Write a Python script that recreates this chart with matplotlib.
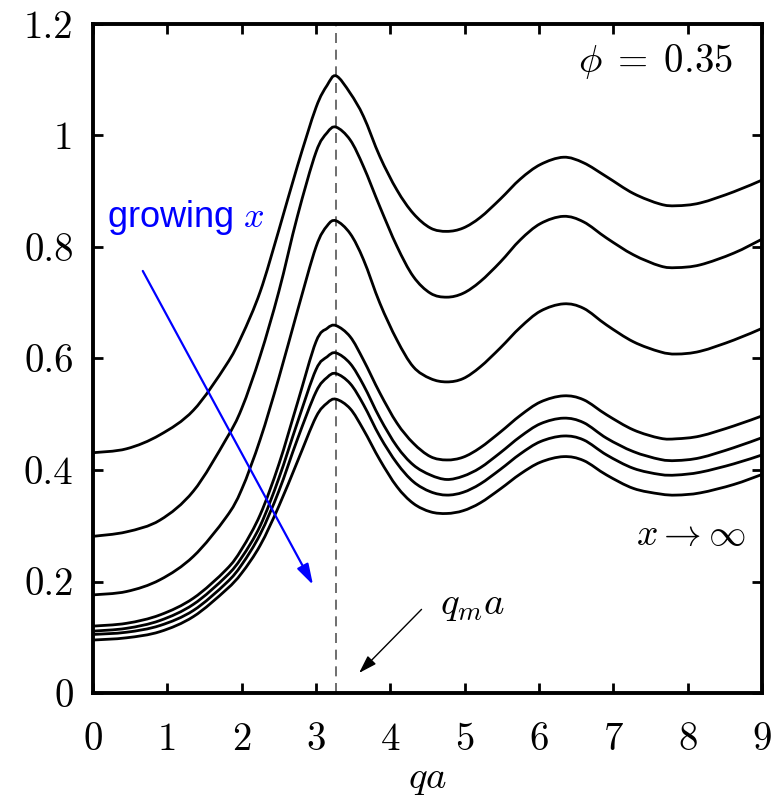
import numpy as np
import matplotlib
matplotlib.use('Agg')
import matplotlib.pyplot as plt
from matplotlib.path import Path
from matplotlib.patches import PathPatch

plt.rcParams['mathtext.fontset'] = 'cm'
plt.rcParams['font.family'] = 'serif'
plt.rcParams['font.serif'] = ['cmr10']
plt.rcParams['axes.formatter.use_mathtext'] = True

# q*a sample positions
qa = [0, 0.45, 0.9, 1.35, 1.79, 2.0, 2.25, 2.5, 2.75, 3.0, 3.15, 3.27, 3.46,
      3.64, 3.86, 4.09, 4.31, 4.54, 4.76, 4.98, 5.21, 5.48, 5.75, 6.02, 6.33,
      6.6, 6.91, 7.27, 7.63, 7.85, 8.17, 8.62, 9.0]

# S(q) curves, top (smallest x) to bottom (x -> infinity)
s1 = [0.431, 0.438, 0.463, 0.507, 0.588, 0.640, 0.720, 0.830, 0.945, 1.050, 1.090,
      1.107, 1.076, 1.034, 0.962, 0.902, 0.860, 0.834, 0.828, 0.834, 0.853, 0.886,
      0.922, 0.948, 0.961, 0.951, 0.926, 0.896, 0.877, 0.874, 0.879, 0.899, 0.920]
s2 = [0.281, 0.289, 0.310, 0.362, 0.455, 0.510, 0.605, 0.720, 0.855, 0.970, 1.005,
      1.015, 0.992, 0.944, 0.872, 0.801, 0.747, 0.717, 0.710, 0.717, 0.738, 0.773,
      0.813, 0.842, 0.855, 0.845, 0.816, 0.786, 0.766, 0.763, 0.768, 0.789, 0.814]
s3 = [0.176, 0.182, 0.203, 0.245, 0.315, 0.365, 0.455, 0.565, 0.685, 0.800, 0.838,
      0.847, 0.824, 0.777, 0.699, 0.633, 0.585, 0.564, 0.558, 0.564, 0.585, 0.619,
      0.656, 0.685, 0.698, 0.690, 0.660, 0.630, 0.612, 0.608, 0.613, 0.633, 0.654]
s4 = [0.120, 0.125, 0.140, 0.170, 0.221, 0.258, 0.320, 0.410, 0.520, 0.630, 0.654,
      0.659, 0.639, 0.597, 0.538, 0.484, 0.448, 0.424, 0.418, 0.423, 0.440, 0.468,
      0.498, 0.522, 0.533, 0.526, 0.499, 0.472, 0.457, 0.456, 0.461, 0.479, 0.497]
s5 = [0.111, 0.116, 0.130, 0.159, 0.209, 0.243, 0.300, 0.385, 0.485, 0.580, 0.603,
      0.610, 0.591, 0.552, 0.493, 0.442, 0.409, 0.391, 0.383, 0.389, 0.404, 0.431,
      0.460, 0.483, 0.493, 0.485, 0.457, 0.433, 0.419, 0.417, 0.422, 0.440, 0.458]
s6 = [0.105, 0.109, 0.121, 0.148, 0.197, 0.230, 0.285, 0.362, 0.455, 0.540, 0.566,
      0.573, 0.555, 0.517, 0.460, 0.412, 0.379, 0.361, 0.355, 0.360, 0.375, 0.401,
      0.429, 0.451, 0.461, 0.454, 0.427, 0.403, 0.392, 0.391, 0.396, 0.411, 0.427]
s7 = [0.095, 0.099, 0.110, 0.137, 0.185, 0.215, 0.265, 0.335, 0.415, 0.495, 0.520,
      0.527, 0.510, 0.472, 0.418, 0.370, 0.340, 0.325, 0.322, 0.327, 0.341, 0.366,
      0.393, 0.414, 0.424, 0.417, 0.391, 0.367, 0.357, 0.355, 0.359, 0.374, 0.392]
curves = [s1, s2, s3, s4, s5, s6, s7]

q_peak = 3.27


def smooth_path(xs, ys):
    # Catmull-Rom through the read points, drawn as cubic Bezier segments
    pts = np.column_stack([xs, ys])
    verts = [pts[0]]
    codes = [Path.MOVETO]
    n = len(pts)
    for i in range(n - 1):
        p0 = pts[max(i - 1, 0)]
        p1 = pts[i]
        p2 = pts[i + 1]
        p3 = pts[min(i + 2, n - 1)]
        c1 = p1 + (p2 - p0) / 6.0
        c2 = p2 - (p3 - p1) / 6.0
        verts += [c1, c2, p2]
        codes += [Path.CURVE4] * 3
    return Path(verts, codes)


fig = plt.figure(figsize=(7.82, 8.02), dpi=100)
ax = fig.add_axes([0.1189, 0.1359, 0.8555, 0.8342])

for s in curves:
    ax.add_patch(PathPatch(smooth_path(qa, s), facecolor='none',
                           edgecolor='black', linewidth=2.0, zorder=3))

ax.axvline(q_peak, color='#555555', linewidth=1.2, linestyle=(0, (6, 4)), zorder=2)

ax.set_xlim(0, 9)
ax.set_ylim(0, 1.2)
ax.set_xticks(range(10))
ax.set_yticks([0, 0.2, 0.4, 0.6, 0.8, 1.0, 1.2])
ax.set_xticklabels([str(i) for i in range(10)])
ax.set_yticklabels(['0', '0.2', '0.4', '0.6', '0.8', '1', '1.2'])
ax.tick_params(direction='in', length=7, width=2, top=True, right=True,
               labelsize=28)
ax.tick_params(axis='x', pad=21)
ax.tick_params(axis='y', pad=14)
for sp in ax.spines.values():
    sp.set_linewidth(2.8)

ax.set_xlabel(r'$qa$', fontsize=28, labelpad=2)

ax.text(8.61, 1.132, r'$\phi \;=\; 0.35$', fontsize=28, ha='right', va='center')
ax.text(8.78, 0.283, r'$x \rightarrow \infty$', fontsize=27, ha='right', va='center')
ax.text(4.67, 0.158, r'$q_m a$', fontsize=28, ha='left', va='center')
ax.text(0.19, 0.852, r'growing $x$', fontsize=26, color='blue', ha='left',
        va='center', family='Liberation Sans')

ax.annotate('', xy=(2.96, 0.194), xytext=(0.67, 0.757),
            arrowprops=dict(arrowstyle='-|>,head_length=0.5,head_width=0.15',
                            color='blue', lw=1.6, mutation_scale=25,
                            shrinkA=0, shrinkB=0))
ax.annotate('', xy=(3.58, 0.036), xytext=(4.42, 0.150),
            arrowprops=dict(arrowstyle='-|>,head_length=0.5,head_width=0.16',
                            color='black', lw=1.0, mutation_scale=22,
                            shrinkA=0, shrinkB=0))

fig.savefig('out.png', dpi=100)
